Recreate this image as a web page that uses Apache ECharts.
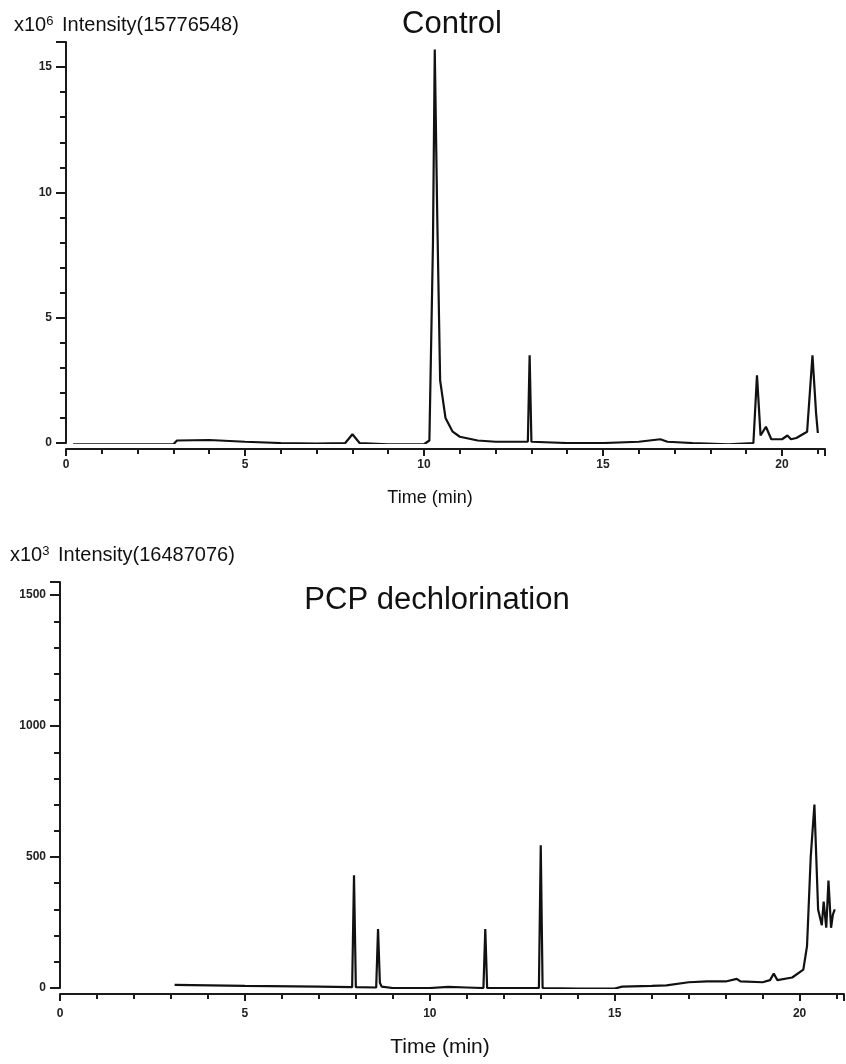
<!DOCTYPE html>
<html>
<head>
<meta charset="utf-8">
<script src="https://cdn.jsdelivr.net/npm/echarts@6/dist/echarts.min.js"></script>
<style>
html,body{margin:0;padding:0;background:#fff;}
#chart{width:846px;height:1064px;}
</style>
</head>
<body>
<div id="chart"></div>
<script>
// ---- Control (x10^6) ----
const controlTime = [0.2, 3.0, 3.1, 4.0, 5.0, 6.0, 7.0, 7.8, 8.0, 8.2, 9.0, 10.0, 10.15, 10.25, 10.3, 10.37, 10.45, 10.6, 10.8, 11.0, 11.5, 12.0, 12.9, 12.95, 13.0, 14.0, 15.0, 16.0, 16.6, 16.8, 17.5, 18.5, 19.2, 19.3, 19.4, 19.55, 19.7, 20.0, 20.15, 20.25, 20.4, 20.7, 20.85, 20.95, 21.0];
const controlIntensity = [-0.05, -0.05, 0.1, 0.12, 0.05, 0.0, -0.02, 0.0, 0.35, 0.0, -0.05, -0.05, 0.1, 8.0, 15.7, 9.0, 2.5, 1.0, 0.45, 0.25, 0.1, 0.05, 0.05, 3.5, 0.05, 0.0, 0.0, 0.05, 0.15, 0.05, 0.0, -0.05, 0.0, 2.7, 0.3, 0.65, 0.15, 0.15, 0.3, 0.15, 0.2, 0.45, 3.5, 1.2, 0.4];

// ---- PCP dechlorination (x10^3) ----
const pcpTime = [3.1, 5.0, 7.0, 7.9, 7.95, 8.0, 8.55, 8.6, 8.65, 8.7, 9.0, 10.0, 10.5, 11.0, 11.45, 11.5, 11.55, 12.5, 12.95, 13.0, 13.05, 14.0, 15.0, 15.2, 16.0, 16.4, 17.0, 17.5, 18.0, 18.3, 18.4, 19.0, 19.2, 19.3, 19.4, 19.8, 20.1, 20.2, 20.3, 20.4, 20.5, 20.6, 20.65, 20.72, 20.78, 20.85, 20.9, 20.95];
const pcpIntensity = [12, 8, 5, 3, 430, 3, 2, 225, 20, 5, 0, 0, 4, 2, 0, 225, 0, 0, 0, 545, 0, -2, -2, 5, 8, 10, 22, 25, 25, 35, 25, 22, 30, 55, 30, 40, 70, 160, 500, 700, 300, 240, 330, 230, 410, 230, 280, 300];

// ---- tick settings ----
const timeTickInterval = 5;
const controlTickInterval = 5;
const pcpTickInterval = 500;

const chart = echarts.init(document.getElementById('chart'), null, {renderer: 'canvas'});

const labelStyle = {color: '#222', fontSize: 12, fontWeight: 'bold', fontFamily: 'Liberation Sans, Arial, sans-serif'};

function xAxisCfg(gridIndex, offset, margin) {
  return {
    type: 'value', gridIndex: gridIndex, min: 0, max: 21.2, interval: timeTickInterval,
    offset: offset,
    axisLine: {show: true, onZero: false, lineStyle: {color: '#1a1a1a', width: 2}},
    axisTick: {show: true, length: 7, lineStyle: {color: '#1a1a1a', width: 2}},
    minorTick: {show: true, splitNumber: 5, length: 5, lineStyle: {color: '#1a1a1a', width: 2}},
    axisLabel: Object.assign({margin: margin, showMaxLabel: false, formatter: v => String(v)}, labelStyle),
    splitLine: {show: false}
  };
}
function yAxisCfg(gridIndex, max, interval) {
  return {
    type: 'value', gridIndex: gridIndex, min: 0, max: max, interval: interval,
    axisLine: {show: true, onZero: false, lineStyle: {color: '#1a1a1a', width: 2}},
    axisTick: {show: true, length: 10, lineStyle: {color: '#1a1a1a', width: 2}},
    minorTick: {show: true, splitNumber: 5, length: 6, lineStyle: {color: '#1a1a1a', width: 2}},
    axisLabel: Object.assign({margin: 14, showMaxLabel: false, formatter: v => String(v)}, labelStyle),
    splitLine: {show: false}
  };
}

const font = 'Liberation Sans, Arial, sans-serif';

chart.setOption({
  animation: false,
  backgroundColor: '#fff',
  grid: [
    {left: 66, top: 42, width: 759, height: 401},
    {left: 60, top: 582, width: 784, height: 406}
  ],
  xAxis: [xAxisCfg(0, 6, 10), xAxisCfg(1, 6, 14)],
  yAxis: [yAxisCfg(0, 16, controlTickInterval), yAxisCfg(1, 1550, pcpTickInterval)],
  series: [
    {
      type: 'line', xAxisIndex: 0, yAxisIndex: 0, showSymbol: false, symbol: 'none',
      lineStyle: {color: '#111', width: 2.2}, data: controlTime.map((t, i) => [t, controlIntensity[i]])
    },
    {
      type: 'line', xAxisIndex: 1, yAxisIndex: 1, showSymbol: false, symbol: 'none',
      lineStyle: {color: '#111', width: 2.2}, data: pcpTime.map((t, i) => [t, pcpIntensity[i]])
    }
  ],
  graphic: [
    {type: 'text', left: 14, top: 15, style: {
      text: 'x10{sup|6} Intensity(15776548)', font: '20px ' + font, fill: '#111',
      rich: {sup: {fontSize: 13, verticalAlign: 'top', fill: '#111', padding: [0, 3, 8, 0]}}
    }},
    {type: 'text', x: 452, y: 24, style: {
      text: 'Control', font: '31px ' + font, fill: '#111', textAlign: 'center', textVerticalAlign: 'middle'
    }},
    {type: 'text', x: 430, y: 498, style: {
      text: 'Time (min)', font: '18px ' + font, fill: '#111', textAlign: 'center', textVerticalAlign: 'middle'
    }},
    {type: 'text', left: 10, top: 545, style: {
      text: 'x10{sup|3} Intensity(16487076)', font: '20px ' + font, fill: '#111',
      rich: {sup: {fontSize: 13, verticalAlign: 'top', fill: '#111', padding: [0, 3, 8, 0]}}
    }},
    {type: 'text', x: 437, y: 600, style: {
      text: 'PCP dechlorination', font: '31px ' + font, fill: '#111', textAlign: 'center', textVerticalAlign: 'middle'
    }},
    {type: 'text', x: 440, y: 1047, style: {
      text: 'Time (min)', font: '21px ' + font, fill: '#111', textAlign: 'center', textVerticalAlign: 'middle'
    }}
  ]
});
</script>
</body>
</html>
